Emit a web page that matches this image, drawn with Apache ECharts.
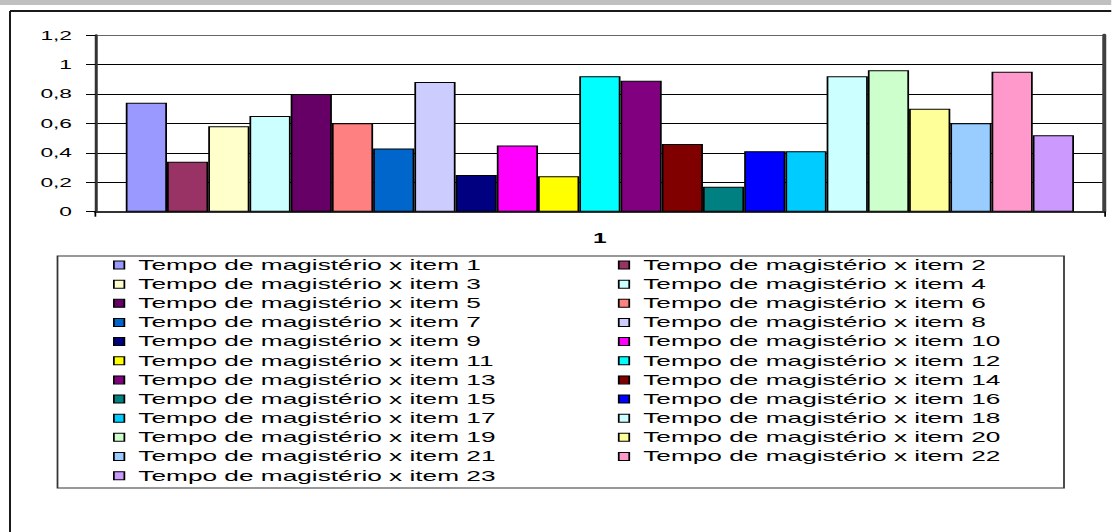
<!DOCTYPE html>
<html>
<head>
<meta charset="utf-8">
<script src="https://cdn.jsdelivr.net/npm/echarts@6/dist/echarts.min.js"></script>
<style>
  html, body { margin: 0; padding: 0; background: #fff; width: 1112px; height: 532px; overflow: hidden; }
  #chart { position: absolute; left: 0; top: 0; height: 532px; transform-origin: 0 0; }
</style>
</head>
<body>
<div id="chart"></div>
<script>
// ---- data ----
const categories = ['1'];
const itemNames = [
  'Tempo de magistério x item 1', 'Tempo de magistério x item 2', 'Tempo de magistério x item 3',
  'Tempo de magistério x item 4', 'Tempo de magistério x item 5', 'Tempo de magistério x item 6',
  'Tempo de magistério x item 7', 'Tempo de magistério x item 8', 'Tempo de magistério x item 9',
  'Tempo de magistério x item 10', 'Tempo de magistério x item 11', 'Tempo de magistério x item 12',
  'Tempo de magistério x item 13', 'Tempo de magistério x item 14', 'Tempo de magistério x item 15',
  'Tempo de magistério x item 16', 'Tempo de magistério x item 17', 'Tempo de magistério x item 18',
  'Tempo de magistério x item 19', 'Tempo de magistério x item 20', 'Tempo de magistério x item 21',
  'Tempo de magistério x item 22', 'Tempo de magistério x item 23'
];
const itemValues = [
  0.74, 0.34, 0.58, 0.65, 0.80, 0.60, 0.43, 0.88, 0.25, 0.45, 0.24, 0.92,
  0.89, 0.46, 0.17, 0.41, 0.41, 0.92, 0.96, 0.70, 0.60, 0.95, 0.52
];
const itemColors = [
  '#9999FF', '#993366', '#FFFFCC', '#CCFFFF', '#660066', '#FF8080', '#0066CC', '#CCCCFF',
  '#000080', '#FF00FF', '#FFFF00', '#00FFFF', '#800080', '#800000', '#008080', '#0000FF',
  '#00CCFF', '#CCFFFF', '#CCFFCC', '#FFFF99', '#99CCFF', '#FF99CC', '#CC99FF'
];
const yTickLabels = ['0', '0,2', '0,4', '0,6', '0,8', '1', '1,2'];
const titleText = 'Correlação positiva das respostas frente ao tempo de magistério e as perguntas do questionário';

// ---- layout: the whole drawing is widened horizontally ----
const SX = 1.75;
const W = 1112 / SX;
const ux = x => x / SX;
const el = document.getElementById('chart');
el.style.width = W + 'px';
el.style.transform = 'scaleX(' + SX + ')';

const sansFont = '"Liberation Sans", Arial, sans-serif';

const chart = echarts.init(el, null, { renderer: 'svg' });

const series = itemNames.map((name, i) => ({
  name: name,
  type: 'bar',
  data: [itemValues[i]],
  barGap: '0%',
  barCategoryGap: '6%',
  itemStyle: { color: itemColors[i], borderColor: '#000', borderWidth: 1 },
  emphasis: { disabled: true }
}));

chart.setOption({
  animation: false,
  backgroundColor: '#fff',
  grid: {
    left: ux(95.5),
    right: W - ux(1105),
    top: 35,
    bottom: 532 - 211.7,
    containLabel: false
  },
  xAxis: {
    type: 'category',
    data: categories,
    axisLine: { lineStyle: { color: '#333', width: 2 } },
    axisTick: { show: true, length: 5, lineStyle: { color: '#000', width: 1 } },
    axisLabel: {
      margin: 19,
      color: '#000',
      fontFamily: sansFont,
      fontSize: 14,
      fontWeight: 'bold'
    }
  },
  yAxis: [
    {
      type: 'value',
      min: 0,
      max: 1.2,
      interval: 0.2,
      axisLine: { show: true, lineStyle: { color: '#333', width: ux(3) } },
      axisTick: { show: true, length: ux(9.5), lineStyle: { color: '#000', width: 1 } },
      axisLabel: {
        margin: ux(23.5),
        color: '#000',
        fontFamily: sansFont,
        fontSize: 13,
        formatter: (v, i) => yTickLabels[i]
      },
      splitLine: {
        show: true,
        lineStyle: { color: ['#000', '#000', '#000', '#000', '#000', '#000', '#666'], width: 1 }
      }
    },
    {
      type: 'value',
      position: 'right',
      min: 0,
      max: 1.2,
      axisLine: { show: true, lineStyle: { color: '#404040', width: ux(4) } },
      axisTick: { show: false },
      axisLabel: { show: false },
      splitLine: { show: false }
    }
  ],
  legend: {
    left: ux(113),
    top: 257.4,
    width: ux(1010),
    orient: 'horizontal',
    padding: 0,
    itemGap: 4,
    itemWidth: ux(10.5),
    itemHeight: 8,
    icon: 'rect',
    selectedMode: false,
    itemStyle: { borderColor: '#000', borderWidth: 1 },
    textStyle: {
      color: '#000',
      fontFamily: sansFont,
      fontSize: 15,
      lineHeight: 15.15,
      width: ux(504) - ux(10.5) - 5 - 3 - 4,
      padding: [0, 0, 0, 3]
    },
    data: itemNames
  },
  graphic: [
    // strip at the top carrying the caption
    { type: 'rect', left: 0, top: 0, z: 10, shape: { x: 0, y: 0, width: W, height: 5 }, style: { fill: '#c0c0c0' } },
    { type: 'text', z: 11, x: 94.8, y: -10,
      style: { text: titleText, font: '19px "Liberation Serif", "Times New Roman", serif', fill: '#000', textAlign: 'left', textVerticalAlign: 'middle' } },
    // outer frame
    { type: 'line', z: 10, shape: { x1: ux(10), y1: 11, x2: W + 5, y2: 11 }, style: { stroke: '#1a1a1a', lineWidth: 2 } },
    { type: 'line', z: 10, shape: { x1: ux(10), y1: 11, x2: ux(10), y2: 540 }, style: { stroke: '#1a1a1a', lineWidth: ux(2) } },
    // legend box
    { type: 'rect', z: 1, shape: { x: ux(57.5), y: 256, width: ux(1006.5), height: 232 }, style: { fill: 'none', stroke: '#333', lineWidth: 1 } }
  ],
  series: series
});
</script>
</body>
</html>
